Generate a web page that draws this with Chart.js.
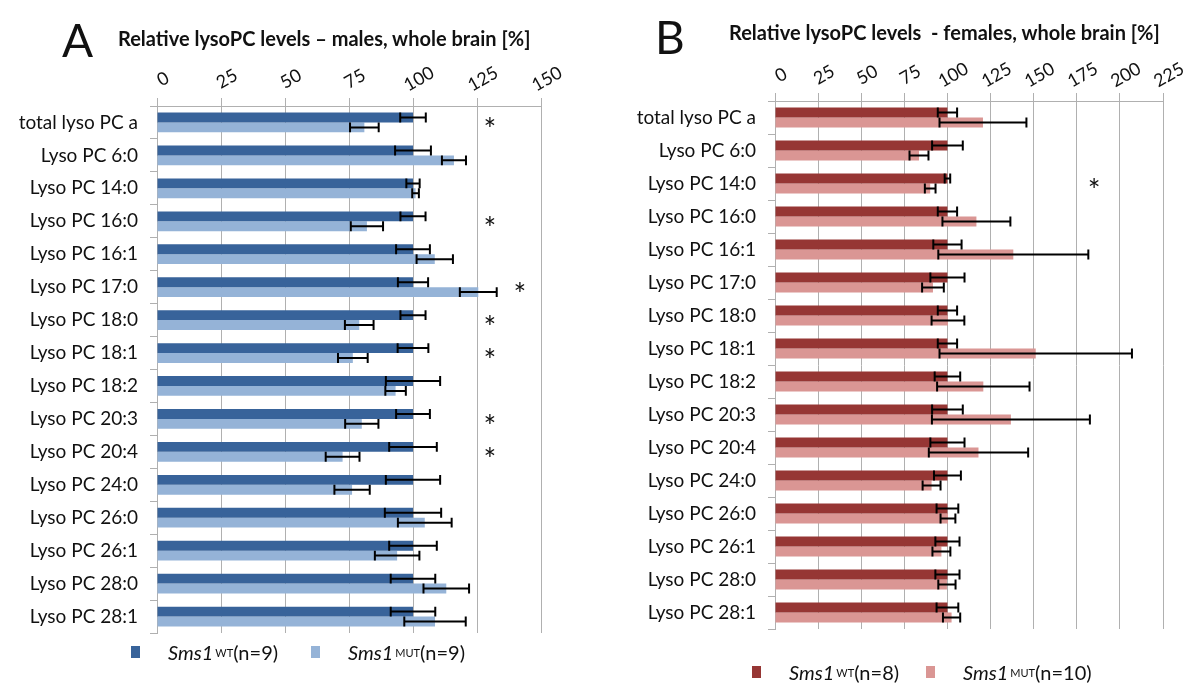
<!DOCTYPE html>
<html lang="en">
<head>
<meta charset="UTF-8" />
<title>Relative lysoPC levels</title>
<script src="https://cdn.jsdelivr.net/npm/chart.js@4"></script>
<style>
  body { margin: 0; background: #fff; font-family: Lato, "Open Sans", sans-serif; color: #111; }
  #page { position: relative; width: 1200px; height: 691px; overflow: hidden; }
  canvas { position: absolute; top: 0; }
  .letter { position: absolute; font-size: 46px; line-height: 1; }
  .title { position: absolute; font-size: 20px; font-weight: bold; line-height: 1; white-space: nowrap; }
  .legend { position: absolute; font-size: 20px; line-height: 1; white-space: nowrap; }
  .legend span.item { position: absolute; display: flex; align-items: center; }
  .swatch { display: inline-block; width: 9px; height: 12px; margin-right: 28px; }
  .legend sup { font-size: 11px; vertical-align: 7px; margin-left: 2px; }
</style>
</head>
<body>
<div id="page">
  <canvas id="chartA" width="600" height="691" style="left:0"></canvas>
  <canvas id="chartB" width="600" height="691" style="left:600px"></canvas>

  <div class="letter" style="left:62px; top:17px">A</div>
  <div class="title" style="left:118px; top:28px">Relative lysoPC levels – males, whole brain [%]</div>
  <div class="letter" style="left:655px; top:14px">B</div>
  <div class="title" style="left:729px; top:22px">Relative lysoPC levels &nbsp;- females, whole brain [%]</div>

  <div class="legend" style="left:0; top:642px">
    <span class="item" style="left:131px"><span class="swatch" id="swWtA"></span><i>Sms1</i><sup>WT</sup>(n=9)</span>
    <span class="item" style="left:311px"><span class="swatch" id="swMutA"></span><i>Sms1</i><sup>MUT</sup>(n=9)</span>
  </div>
  <div class="legend" style="left:0; top:662px">
    <span class="item" style="left:752px"><span class="swatch" id="swWtB"></span><i>Sms1</i><sup>WT</sup>(n=8)</span>
    <span class="item" style="left:926px"><span class="swatch" id="swMutB"></span><i>Sms1</i><sup>MUT</sup>(n=10)</span>
  </div>
</div>

<script>
  // lipid species, top to bottom
  const categories = [
    'total lyso PC a', 'Lyso PC 6:0', 'Lyso PC 14:0', 'Lyso PC 16:0',
    'Lyso PC 16:1', 'Lyso PC 17:0', 'Lyso PC 18:0', 'Lyso PC 18:1',
    'Lyso PC 18:2', 'Lyso PC 20:3', 'Lyso PC 20:4', 'Lyso PC 24:0',
    'Lyso PC 26:0', 'Lyso PC 26:1', 'Lyso PC 28:0', 'Lyso PC 28:1'
  ];

  // males (% of WT mean) with SEM
  const maleWt     = [100, 100, 100, 100, 100, 100, 100, 100, 100, 100, 100, 100, 100, 100, 100, 100];
  const maleWtErr  = [5, 7, 2.6, 4.9, 6.6, 5.9, 4.9, 6, 10.6, 6.6, 9.3, 10.6, 11, 9.3, 8.7, 8.7];
  const maleMut    = [81, 116, 101, 82, 108.5, 125.5, 79, 76.5, 93.2, 80, 72.5, 76.2, 104.6, 93.8, 113, 108.6];
  const maleMutErr = [5.6, 4.7, 1.3, 6.3, 7.1, 7.2, 5.6, 5.8, 4, 6.5, 6.6, 6.9, 10.5, 8.7, 8.9, 12];
  const maleSig    = [1, 0, 0, 1, 0, 1, 1, 1, 0, 1, 1, 0, 0, 0, 0, 0];

  // females (% of WT mean) with SEM
  const femaleWt     = [100, 100, 100, 100, 100, 100, 100, 100, 100, 100, 100, 100, 100, 100, 100, 100];
  const femaleWtErr  = [5.6, 8.9, 1.6, 5.6, 8.2, 9.9, 5.6, 5.6, 7.4, 8.9, 9.9, 7.8, 6.3, 7, 7, 6.3];
  const femaleMut    = [120.6, 83.5, 90, 116.8, 138.2, 91.6, 100.3, 151.2, 120.8, 136.8, 118, 90.8, 100.3, 96.5, 99.7, 102.4];
  const femaleMutErr = [25.2, 5.5, 3.1, 19.7, 43.5, 6.3, 9.5, 55.8, 26.8, 45.8, 28.8, 5.2, 4.3, 5.2, 5, 5];
  const femaleSig    = [0, 0, 1, 0, 0, 0, 0, 0, 0, 0, 0, 0, 0, 0, 0, 0];

  const blueDark = '#38639a', blueLight = '#95b3d7';
  const redDark = '#963634', redLight = '#da9694';
  const gridGrey = '#b0b0b0';
  const fontFamily = 'Lato, "Open Sans", sans-serif';

  document.getElementById('swWtA').style.background = blueDark;
  document.getElementById('swMutA').style.background = blueLight;
  document.getElementById('swWtB').style.background = redDark;
  document.getElementById('swMutB').style.background = redLight;

  // whiskers: +/- error around each bar end, caps as tall as the bar
  const errorBars = {
    id: 'errorBars',
    afterDatasetsDraw(chart) {
      const ctx = chart.ctx, xs = chart.scales.x;
      ctx.save();
      ctx.strokeStyle = '#000';
      ctx.lineWidth = 2;
      chart.data.datasets.forEach((ds, i) => {
        chart.getDatasetMeta(i).data.forEach((bar, j) => {
          const lo = xs.getPixelForValue(ds.data[j] - ds.err[j]);
          const hi = xs.getPixelForValue(ds.data[j] + ds.err[j]);
          const h = bar.height / 2;
          ctx.beginPath();
          ctx.moveTo(lo, bar.y); ctx.lineTo(hi, bar.y);
          ctx.moveTo(lo, bar.y - h); ctx.lineTo(lo, bar.y + h);
          ctx.moveTo(hi, bar.y - h); ctx.lineTo(hi, bar.y + h);
          ctx.stroke();
        });
      });
      ctx.restore();
    }
  };

  // slanted value labels above the top axis
  const slantLabels = {
    id: 'slantLabels',
    afterDraw(chart, args, opts) {
      const ctx = chart.ctx, xs = chart.scales.x;
      ctx.save();
      ctx.font = '18px ' + fontFamily;
      ctx.fillStyle = '#111';
      ctx.textAlign = 'center';
      ctx.textBaseline = 'middle';
      xs.ticks.forEach(t => {
        ctx.save();
        ctx.translate(xs.getPixelForValue(t.value) + opts.dx, opts.y);
        ctx.rotate(-Math.PI / 6);
        ctx.fillText(String(t.value), 0, 0);
        ctx.restore();
      });
      ctx.restore();
    }
  };

  // significance asterisks, right of the bars
  const stars = {
    id: 'stars',
    afterDraw(chart, args, opts) {
      const ctx = chart.ctx, xs = chart.scales.x, ys = chart.scales.y;
      const ds = chart.data.datasets;
      ctx.save();
      ctx.font = '30px ' + fontFamily;
      ctx.fillStyle = '#111';
      ctx.textAlign = 'center';
      ctx.textBaseline = 'middle';
      opts.sig.forEach((s, j) => {
        if (!s) return;
        const reach = Math.max(...ds.map(d => d.data[j] + d.err[j]));
        const v = Math.max(opts.column, reach + 9);
        ctx.fillText('*', xs.getPixelForValue(v), ys.getPixelForValue(j) + 8);
      });
      ctx.restore();
    }
  };

  function buildChart(id, cfg) {
    return new Chart(document.getElementById(id), {
      type: 'bar',
      data: {
        labels: categories,
        datasets: [
          { label: 'Sms1 WT', data: cfg.wt, err: cfg.wtErr, backgroundColor: cfg.dark },
          { label: 'Sms1 MUT', data: cfg.mut, err: cfg.mutErr, backgroundColor: cfg.light }
        ]
      },
      options: {
        indexAxis: 'y',
        responsive: false,
        animation: false,
        layout: { padding: { top: 0, left: 0, right: cfg.padRight, bottom: cfg.padBottom } },
        datasets: { bar: { categoryPercentage: 0.6, barPercentage: 1 } },
        plugins: {
          legend: { display: false },
          tooltip: { enabled: false },
          slantLabels: { y: cfg.labelY, dx: 6 },
          stars: { sig: cfg.sig, column: cfg.starAt }
        },
        scales: {
          x: {
            position: 'top',
            min: 0,
            max: cfg.max,
            ticks: { stepSize: 25, display: false },
            grid: { color: gridGrey, tickLength: 8 },
            border: { color: gridGrey },
            afterFit: s => { s.height = cfg.top; }
          },
          y: {
            grid: { drawOnChartArea: false, color: gridGrey, tickLength: 7 },
            border: { color: gridGrey },
            ticks: { color: '#111', padding: 12, font: { family: fontFamily, size: 19 } },
            afterFit: s => { s.width = cfg.left; }
          }
        }
      },
      plugins: [errorBars, slantLabels, stars]
    });
  }

  buildChart('chartA', {
    wt: maleWt, wtErr: maleWtErr, mut: maleMut, mutErr: maleMutErr, sig: maleSig,
    dark: blueDark, light: blueLight, max: 150, starAt: 130,
    left: 157, top: 106, padRight: 59, padBottom: 58, labelY: 79
  });

  buildChart('chartB', {
    wt: femaleWt, wtErr: femaleWtErr, mut: femaleMut, mutErr: femaleMutErr, sig: femaleSig,
    dark: redDark, light: redLight, max: 225, starAt: 185,
    left: 175, top: 101, padRight: 37, padBottom: 62, labelY: 75
  });
</script>
</body>
</html>
